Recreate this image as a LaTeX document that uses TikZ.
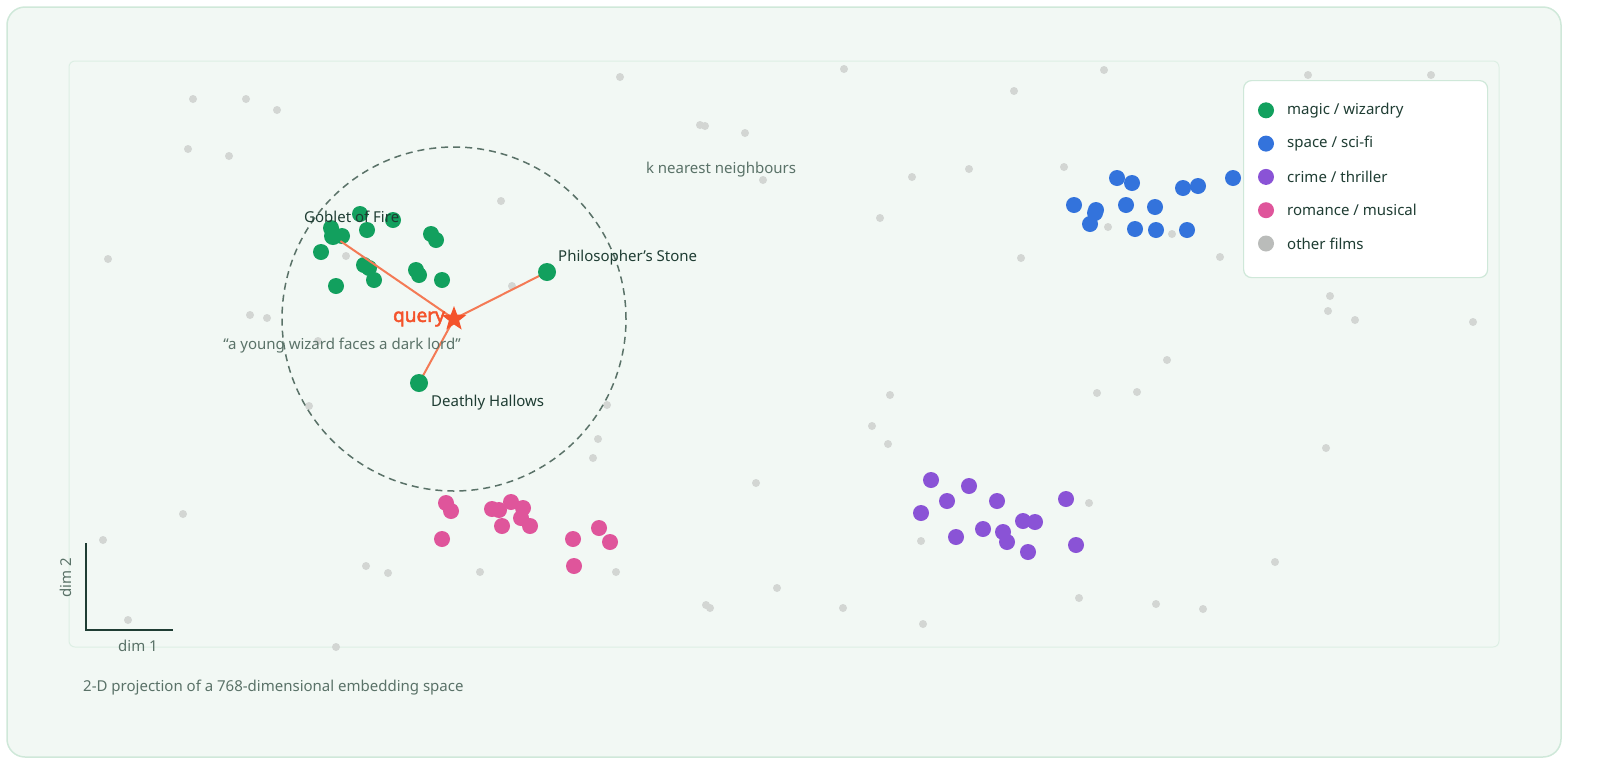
\documentclass[tikz,border=0pt]{standalone}
\usepackage{fontspec}
\setmainfont{Noto Sans}
\newfontfamily\queryfont{Noto Sans}[FakeBold=2.5]
\usetikzlibrary{shapes.geometric}
\definecolor{bgfill}{HTML}{F2F8F4}
\definecolor{frame}{HTML}{CFE8D9}
\definecolor{ink}{HTML}{1F3D33}
\definecolor{muted}{HTML}{5A7268}
\definecolor{othergray}{HTML}{D3D6D3}
\definecolor{magic}{HTML}{12A05E}
\definecolor{space}{HTML}{3373DC}
\definecolor{crime}{HTML}{8A53D6}
\definecolor{romance}{HTML}{DF559B}
\definecolor{querycol}{HTML}{F4532B}
\definecolor{linkcol}{HTML}{F47A55}
\tikzset{
  other/.style={circle, fill=othergray, inner sep=0pt, minimum size=8pt},
  film/.style={circle, fill=#1, inner sep=0pt, minimum size=16pt},
  lbl/.style={font=\fontsize{15}{18}\selectfont, text=ink, inner sep=1pt},
  note/.style={font=\fontsize{15}{18}\selectfont, text=muted, inner sep=1pt},
  link/.style={linkcol, line width=2pt},
  querystar/.style={star, star points=5, star point ratio=2.4, fill=querycol, inner sep=0pt, minimum size=26pt}
}
\begin{document}
\begin{tikzpicture}[x=1pt, y=-1pt]
    \useasboundingbox (0,0) rectangle (1600,780);
    % Rahmen und Plotfläche
    \draw[frame, fill=bgfill, line width=1.5pt, rounded corners=18pt] (7,7) rectangle (1561,757);
    \draw[frame!70, line width=1pt, rounded corners=6pt] (69,61) rectangle (1499,647);

    % andere Filme (grau)
    \foreach \x/\y [count=\i] in {193/99,246/99,277/110,188/149,229/156,108/259,620/77,700/125,705/126,745/133,
        844/69,763/180,501/201,880/218,912/177,969/169,1014/91,1104/70,1064/167,1021/258,1108/227,1172/234,
        1220/257,1308/75,1431/75,1330/296,1328/311,1355/320,1473/322,1167/360,1137/392,1097/393,890/395,
        872/426,888/444,1326/448,756/483,598/439,593/458,607/405,309/406,318/341,250/315,267/318,346/256,
        512/286,183/514,103/540,366/566,388/573,480/572,616/572,777/588,706/605,710/608,843/608,923/624,
        1089/503,921/541,1079/598,1156/604,1203/609,1275/562,128/620,336/647}
        \node[other] (o\i) at (\x,\y) {};

    % Suchradius
    \node[draw=muted, dash pattern=on 7pt off 5pt, line width=1.5pt, circle, minimum size=344pt] (knn) at (454,319) {};

    % Cluster
    \foreach \x/\y [count=\i] in {331/228,342/236,360/214,367/230,393/220,431/234,436/240,321/252,364/265,
        369/268,416/270,419/275,442/280,374/280,336/286}
        \node[film=magic] (m\i) at (\x,\y) {};
    \foreach \x/\y [count=\i] in {1117/178,1132/183,1074/205,1096/210,1095/213,1126/205,1155/207,1183/188,
        1198/186,1233/178,1090/224,1135/229,1156/230,1187/230}
        \node[film=space] (s\i) at (\x,\y) {};
    \node[film=space!12!white] (s15) at (1286,189) {};
    \foreach \x/\y [count=\i] in {931/480,969/486,947/501,997/501,1066/499,921/513,1023/521,1035/522,
        983/529,1003/532,956/537,1007/542,1076/545,1028/552}
        \node[film=crime] (c\i) at (\x,\y) {};
    \foreach \x/\y [count=\i] in {446/503,451/511,511/502,492/509,499/510,523/508,521/518,530/526,
        502/526,599/528,442/539,573/539,610/542,574/566}
        \node[film=romance] (r\i) at (\x,\y) {};

    % Treffer
    \coordinate (goblet) at (333,236);
    \coordinate (stone) at (547,272);
    \coordinate (hallows) at (419,383);
    \coordinate (query) at (454,319);
    \draw[link] (query) -- (goblet);
    \draw[link] (query) -- (stone);
    \draw[link] (query) -- (hallows);
    \node[film=magic, minimum size=18pt] (hgoblet) at (goblet) {};
    \node[film=magic, minimum size=18pt] (hstone) at (stone) {};
    \node[film=magic, minimum size=18pt] (hhallows) at (hallows) {};
    \node[querystar] (qstar) at (query) {};

    \node[lbl, anchor=west] (lgoblet) at (303,217) {Goblet of Fire};
    \node[lbl, anchor=west] (lstone) at (557,258) {Philosopher's Stone};
    \node[lbl, anchor=west] (lhallows) at (430,403) {Deathly Hallows};
    \node[font=\fontsize{19}{22}\queryfont, text=querycol, anchor=east, inner sep=1pt] (lquery) at (446,319) {query};
    \node[note] (quote) at (342,346) {“a young wizard faces a dark lord”};
    \node[note] (lknn) at (721,170) {k nearest neighbours};

    % Legende
    \node[draw=frame, fill=white, line width=1.2pt, rounded corners=8pt, minimum width=244pt, minimum height=197pt, anchor=north west] (legend) at (1243,80) {};
    \foreach \c/\t [count=\i] in {magic/{magic / wizardry},space/{space / sci-fi},crime/{crime / thriller},romance/{romance / musical},othergray!70!gray/{other films}}{
        \node[film=\c] (k\i) at (1266,77+33.3*\i) {};
        \node[lbl, anchor=west] (t\i) at (1286,77+33.3*\i) {\t};
    }

    % Achsen
    \coordinate (ax) at (86,630);
    \draw[ink, line width=1.5pt] (86,543) -- (ax) -- (173,630);
    \node[note, rotate=90] (dimy) at (66,578) {dim 2};
    \node[note] (dimx) at (138,646) {dim 1};
    \node[note, anchor=west] (caption) at (82,688) {2-D projection of a 768-dimensional embedding space};
\end{tikzpicture}
\end{document}
